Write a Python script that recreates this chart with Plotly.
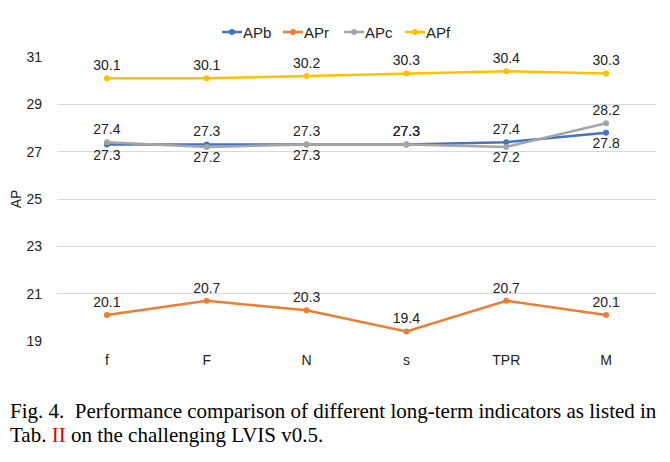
import plotly.graph_objects as go

categories = ["f", "F", "N", "s", "TPR", "M"]
apb = [27.3, 27.3, 27.3, 27.3, 27.4, 27.8]
apr = [20.1, 20.7, 20.3, 19.4, 20.7, 20.1]
apc = [27.4, 27.2, 27.3, 27.3, 27.2, 28.2]
apf = [30.1, 30.1, 30.2, 30.3, 30.4, 30.3]
y_ticks = [19, 21, 23, 25, 27, 29, 31]

apb_pos = ["bottom center", "top center", "top center", "top center", "top center", "bottom center"]
apc_pos = ["top center", "bottom center", "bottom center", "top center", "bottom center", "top center"]

# page body has an 8px margin, so the figure is offset by 8px on screen
OFF = 8
W, H = 670 - OFF, 462 - OFF
L, R, T = 57 - OFF, 14, 57 - OFF
B = H - (341 - OFF)
pw = W - L - R
ph = H - T - B


def px(sx):
    return (sx - OFF - L) / pw


def py(sy):
    return (T + ph - (sy - OFF)) / ph


fig = go.Figure()
series = [
    ("APb", apb, "#4472C4", apb_pos),
    ("APr", apr, "#ED7D31", "top center"),
    ("APc", apc, "#A5A5A5", apc_pos),
    ("APf", apf, "#FFC000", "top center"),
]
for name, vals, col, pos in series:
    fig.add_trace(go.Scatter(
        x=categories, y=vals, name=name, mode="lines+markers+text",
        line=dict(color=col, width=2.5), marker=dict(color=col, size=6),
        text=[f"{v:.1f}" for v in vals], textposition=pos,
        textfont=dict(family="Liberation Sans, Arial", size=14, color="#222222"),
        cliponaxis=False, showlegend=False,
    ))

# compact legend drawn like the original (short line + dot + label)
leg_y = py(32)
for i, (name, vals, col, pos) in enumerate(series):
    x0 = 222 + i * 61
    fig.add_shape(type="line", xref="paper", yref="paper",
                  x0=px(x0), x1=px(x0 + 20), y0=leg_y, y1=leg_y,
                  line=dict(color=col, width=2.5))
    fig.add_shape(type="circle", xref="paper", yref="paper",
                  x0=px(x0 + 10 - 3), x1=px(x0 + 10 + 3), y0=py(32 + 3), y1=py(32 - 3),
                  line=dict(color=col, width=0), fillcolor=col)
    fig.add_annotation(xref="paper", yref="paper", x=px(x0 + 19), y=leg_y,
                       xanchor="left", yanchor="middle", showarrow=False, text=name,
                       font=dict(family="Liberation Sans, Arial", size=15, color="#222222"))

fig.update_layout(
    width=W, height=H,
    margin=dict(l=L, r=R, t=T, b=B, autoexpand=False),
    paper_bgcolor="white", plot_bgcolor="white",
    font=dict(family="Liberation Sans, Arial", size=14, color="#222222"),
    showlegend=False,
    xaxis=dict(range=[-0.5, 5.5], showgrid=False, showline=False, zeroline=False, ticks="",
               ticklabelstandoff=9, tickfont=dict(size=14), automargin=False),
    yaxis=dict(range=[19, 31], tickvals=y_ticks, showgrid=True, gridcolor="#D9D9D9",
               gridwidth=1, zeroline=False, showline=False, ticklabelstandoff=14,
               title=dict(text="AP", standoff=11, font=dict(size=14)), tickfont=dict(size=14),
               automargin=False),
)

cap_x = (8 - OFF - L) / pw
cap_font = dict(family="Liberation Serif, Times New Roman", size=21, color="black")
fig.add_annotation(xref="paper", yref="paper", x=cap_x, y=py(411),
                   xanchor="left", yanchor="middle", showarrow=False, align="left",
                   text="Fig. 4.&nbsp; Performance comparison of different long-term indicators as listed in",
                   font=cap_font)
fig.add_annotation(xref="paper", yref="paper", x=cap_x, y=py(435),
                   xanchor="left", yanchor="middle", showarrow=False, align="left",
                   text="Tab. <span style='color:#E00000'>II</span> on the challenging LVIS v0.5.",
                   font=cap_font)

fig.write_html("out.html")
